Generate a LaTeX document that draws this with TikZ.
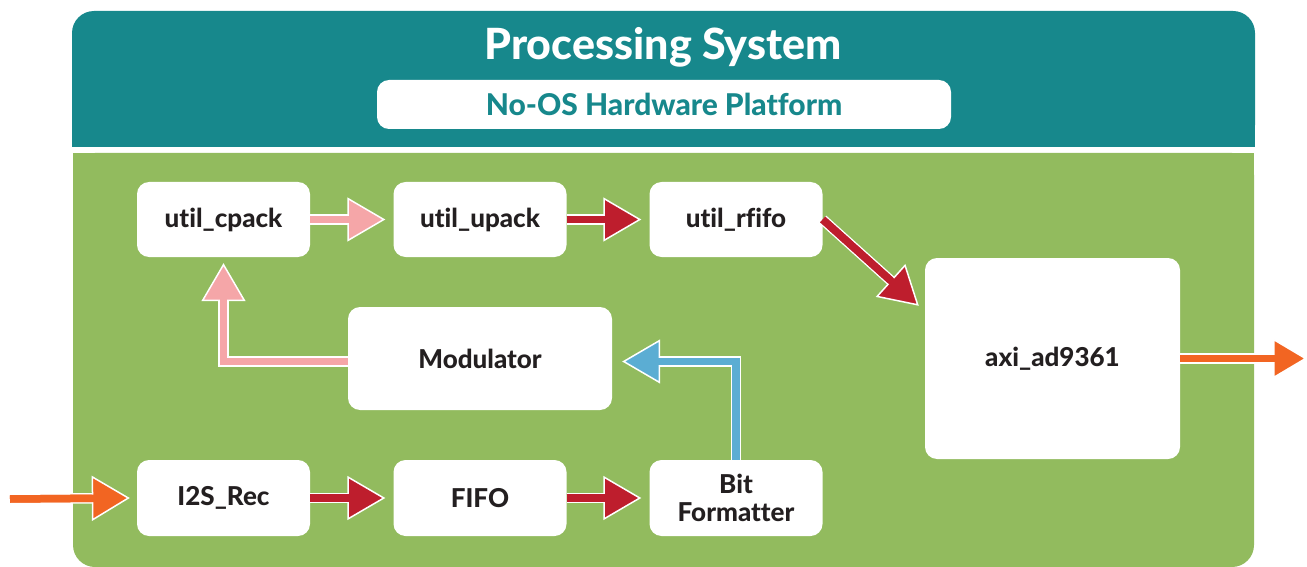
\documentclass[tikz,border=0pt]{standalone}
\usepackage{fontspec}
\setmainfont{Lato}
\newfontfamily\heavyfont[Ligatures=NoCommon]{Lato Heavy}
\usetikzlibrary{arrows.meta,calc}
\definecolor{psteal}{HTML}{17888C}
\definecolor{plgreen}{HTML}{92BB5E}
\definecolor{arrred}{HTML}{BE1E2D}
\definecolor{arrpink}{HTML}{F5A6A8}
\definecolor{arrblue}{HTML}{5BADD3}
\definecolor{arrorange}{HTML}{F26522}
\definecolor{txtdark}{HTML}{231F20}
\newcommand{\fatarrow}[4]{%
  \draw[white, line width=10.5pt, line join=miter, shorten >=30pt] #4;
  \draw[#1, line width=7.5pt, line join=miter, -{Triangle[length=#2pt,width=#3pt,line width=1.5pt,color=white,fill=#1]}] #4;
  \draw[#1, line width=7.5pt, line join=miter, shorten >=#2pt-3pt] #4;
}
\begin{document}
\begin{tikzpicture}[x=1pt,y=-1pt,
  blk/.style={fill=white, rounded corners=12pt, minimum width=173pt, minimum height=75pt,
    font=\fontsize{26}{28}\selectfont\heavyfont, text=txtdark, align=center, inner sep=0pt},
  ttl/.style={font=\fontsize{43}{48}\selectfont\heavyfont, text=white, inner sep=0pt},
  subttl/.style={fill=white, rounded corners=12pt, minimum width=574pt, minimum height=49pt,
    font=\fontsize{30}{34}\selectfont\heavyfont, text=psteal, inner sep=0pt}]
\useasboundingbox (0,0) rectangle (1307,567);
% panels
\fill[psteal, rounded corners=22pt] (72,11) rectangle (1255,147);
\fill[psteal] (72,80) rectangle (1255,147);
\fill[plgreen, rounded corners=22pt] (73,153) rectangle (1254,567);
\fill[plgreen] (73,153) rectangle (1254,220);
% titles
\node[ttl] (title) at (663,47) {Processing System};
\node[subttl] (platform) at (664,104.5) {No-OS Hardware Platform};
% blocks
\node[blk] (cpack) at (223.5,219.5) {util\_cpack};
\node[blk] (upack) at (480,219.5) {util\_upack};
\node[blk] (rfifo) at (736,219.5) {util\_rfifo};
\node[blk, minimum width=264pt, minimum height=103pt] (mod) at (480,358.5) {Modulator};
\node[blk, minimum width=255pt, minimum height=201pt] (axi) at (1052.5,358.5) {axi\_ad9361};
\node[blk, minimum height=76pt] (i2s) at (223.5,498) {I2S\_Rec};
\node[blk, minimum height=76pt] (fifo) at (480,498) {FIFO};
\node[blk, minimum height=76pt] (bitfmt) at (736,498) {Bit\\Formatter};
\coordinate (in) at (10,499);
\coordinate (out) at (1307,358.5);
% arrows
\fatarrow{arrpink}{38}{44}{(cpack.east) -- ($(upack.west)+(-8,0)$)}
\fatarrow{arrred}{38}{44}{(upack.east) -- ($(rfifo.west)+(-8,0)$)}
\fatarrow{arrred}{38}{44}{(rfifo.east) -- ($(axi.north west)+(-6,48)$)}
\fatarrow{arrpink}{38}{44}{($(mod.west)+(0,3)$) -| ($(cpack.south)+(0,6)$)}
\fatarrow{arrblue}{38}{44}{(bitfmt.north) |- ($(mod.east)+(10,3)$)}
\fatarrow{arrred}{38}{44}{(i2s.east) -- ($(fifo.west)+(-8,0)$)}
\fatarrow{arrred}{38}{44}{(fifo.east) -- ($(bitfmt.west)+(-8,0)$)}
\fatarrow{arrorange}{38}{45}{(in) -- ($(i2s.west)+(-7,0)$)}
\fatarrow{arrorange}{34}{40}{(axi.east) -- (out)}
\end{tikzpicture}
\end{document}
